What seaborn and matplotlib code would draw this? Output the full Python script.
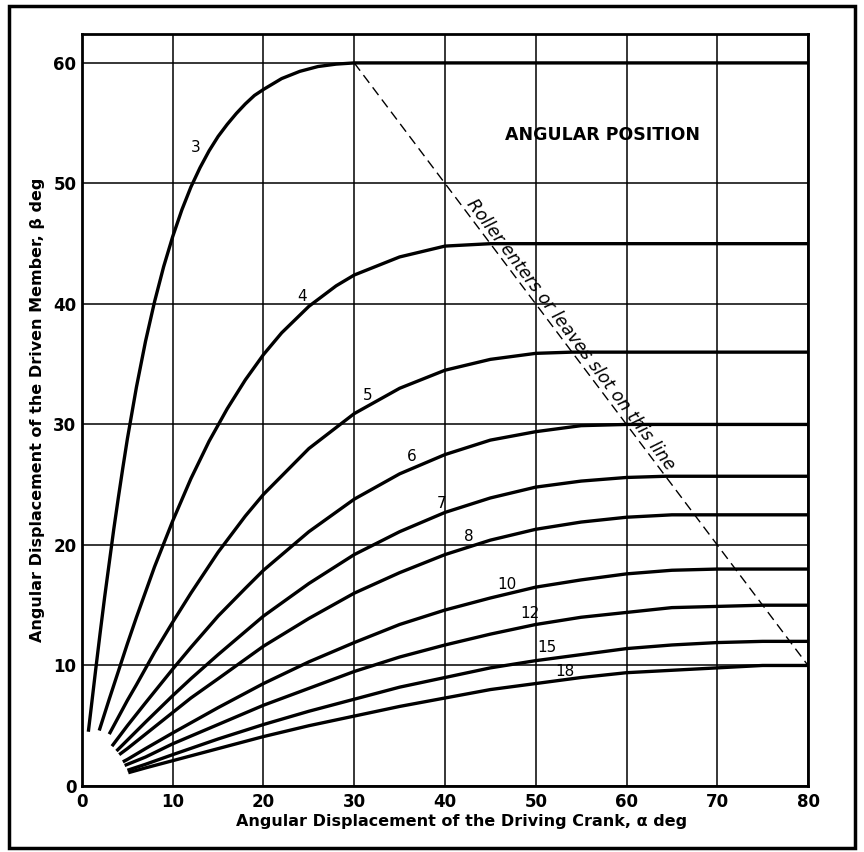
import math
import pandas as pd
import matplotlib
matplotlib.use('Agg')
import matplotlib.pyplot as plt
import seaborn as sns
from matplotlib.patches import Rectangle

# number of slots in the driven member, one curve each
SLOTS = [3, 4, 5, 6, 7, 8, 10, 12, 15, 18]

# crank angle alpha (deg) vs driven angle beta (deg)
ALPHA_3 = [0.7, 1, 1.5, 2, 2.5, 3, 3.5, 4, 4.5, 5, 6, 7, 8, 9, 10, 11, 12, 13, 14, 15, 16,
           17, 18, 19, 20, 22, 24, 26, 28, 30, 80]
BETA_3 = [4.5, 6.4, 9.6, 12.7, 15.7, 18.5, 21.3, 23.9, 26.4, 28.8, 33.1, 36.9, 40.2, 43.1, 45.6,
          47.8, 49.7, 51.3, 52.7, 53.9, 54.9, 55.8, 56.6, 57.3, 57.8, 58.7, 59.3, 59.7, 59.9, 60, 60]

ALPHA_4 = [1.9, 3, 4, 5, 6, 8, 10, 12, 14, 16, 18, 20, 22, 25, 28, 30, 35, 40, 45, 80]
BETA_4 = [4.6, 7.2, 9.5, 11.8, 14.0, 18.2, 22.0, 25.5, 28.6, 31.3, 33.7, 35.8, 37.6, 39.8, 41.5, 42.4, 43.9, 44.8, 45, 45]

ALPHA_5 = [3, 4, 5, 6, 8, 10, 12, 15, 18, 20, 25, 30, 35, 40, 45, 50, 54, 80]
BETA_5 = [4.3, 5.7, 7.1, 8.4, 11.1, 13.6, 16.0, 19.4, 22.4, 24.2, 28.0, 30.9, 33.0, 34.5, 35.4, 35.9, 36, 36]

ALPHA_6 = [3.3, 5, 7, 10, 12, 15, 18, 20, 25, 30, 35, 40, 45, 50, 55, 60, 80]
BETA_6 = [3.3, 5.0, 6.9, 9.7, 11.5, 14.1, 16.4, 17.9, 21.1, 23.8, 25.9, 27.5, 28.7, 29.4, 29.9, 30, 30]

ALPHA_7 = [3.8, 5, 7, 10, 12, 15, 20, 25, 30, 35, 40, 45, 50, 55, 60, 64.3, 80]
BETA_7 = [2.9, 3.8, 5.3, 7.5, 8.9, 10.9, 14.1, 16.8, 19.2, 21.1, 22.7, 23.9, 24.8, 25.3, 25.6, 25.7, 25.7]

ALPHA_8 = [4.1, 5, 7, 10, 12, 15, 20, 25, 30, 35, 40, 45, 50, 55, 60, 65, 67.5, 80]
BETA_8 = [2.6, 3.1, 4.3, 6.1, 7.3, 8.9, 11.6, 13.9, 16.0, 17.7, 19.2, 20.4, 21.3, 21.9, 22.3, 22.5, 22.5, 22.5]

ALPHA_10 = [4.5, 5, 7, 10, 15, 20, 25, 30, 35, 40, 45, 50, 55, 60, 65, 70, 72, 80]
BETA_10 = [2.0, 2.2, 3.1, 4.4, 6.5, 8.5, 10.3, 11.9, 13.4, 14.6, 15.6, 16.5, 17.1, 17.6, 17.9, 18.0, 18, 18]

ALPHA_12 = [4.7, 7, 10, 15, 20, 25, 30, 35, 40, 45, 50, 55, 60, 65, 70, 75, 80]
BETA_12 = [1.7, 2.4, 3.5, 5.1, 6.7, 8.1, 9.5, 10.7, 11.7, 12.6, 13.4, 14.0, 14.4, 14.8, 14.9, 15, 15]

ALPHA_15 = [5, 7, 10, 15, 20, 25, 30, 35, 40, 45, 50, 55, 60, 65, 70, 75, 78, 80]
BETA_15 = [1.3, 1.8, 2.6, 3.9, 5.1, 6.2, 7.2, 8.2, 9.0, 9.8, 10.4, 10.9, 11.4, 11.7, 11.9, 12.0, 12, 12]

ALPHA_18 = [5.1, 7, 10, 15, 20, 25, 30, 35, 40, 45, 50, 55, 60, 65, 70, 75, 80]
BETA_18 = [1.1, 1.5, 2.1, 3.1, 4.1, 5.0, 5.8, 6.6, 7.3, 8.0, 8.5, 9.0, 9.4, 9.6, 9.8, 10.0, 10]

# line where the roller enters or leaves the slot
ROLLER_ALPHA = [30, 80]
ROLLER_BETA = [60, 10]

X_TICKS = [0, 10, 20, 30, 40, 50, 60, 70, 80]
Y_TICKS = [0, 10, 20, 30, 40, 50, 60]

CURVE_LABELS = ['3', '4', '5', '6', '7', '8', '10', '12', '15', '18']
LABEL_XY = [(12.5, 53.0), (24.3, 40.6), (31.5, 32.4), (36.3, 27.3), (39.6, 23.4),
            (42.6, 20.7), (46.8, 16.7), (49.4, 14.3), (51.2, 11.5), (53.2, 9.5)]

alphas = [ALPHA_3, ALPHA_4, ALPHA_5, ALPHA_6, ALPHA_7, ALPHA_8, ALPHA_10, ALPHA_12, ALPHA_15, ALPHA_18]
betas = [BETA_3, BETA_4, BETA_5, BETA_6, BETA_7, BETA_8, BETA_10, BETA_12, BETA_15, BETA_18]
frames = []
for n, a, b in zip(SLOTS, alphas, betas):
    frames.append(pd.DataFrame({'alpha': a, 'beta': b, 'slots': n}))
df = pd.concat(frames, ignore_index=True)

sns.set_theme(style='white')
plt.rcParams['font.family'] = ['DejaVu Sans']

fig = plt.figure(figsize=(8.64, 8.52), dpi=100)
ax = fig.add_axes([0.0949, 0.0775, 0.8403, 0.8826])

sns.lineplot(data=df, x='alpha', y='beta', units='slots', estimator=None, sort=False,
             color='black', lw=2.4, solid_capstyle='butt', solid_joinstyle='round', ax=ax)
sns.lineplot(x=ROLLER_ALPHA, y=ROLLER_BETA, color='black', lw=1.0, dashes=False,
             linestyle=(0, (7, 4)), ax=ax)

ax.set_xlim(0, 80)
ax.set_ylim(0, 62.4)
ax.set_xticks(X_TICKS)
ax.set_yticks(Y_TICKS)
ax.grid(True, color='black', lw=1.1)
ax.set_axisbelow(True)
for sp in ax.spines.values():
    sp.set_color('black')
    sp.set_linewidth(2)
ax.tick_params(length=0, labelsize=12, colors='black')
ax.tick_params(axis='x', pad=5)
ax.tick_params(axis='y', pad=4)
for lab in ax.get_xticklabels() + ax.get_yticklabels():
    lab.set_fontweight('bold')

ax.set_xlabel('Angular Displacement of the Driving Crank, α deg', fontsize=11.5,
              fontweight='bold', color='black')
ax.xaxis.set_label_coords(0.523, -0.037)
ax.set_ylabel('Angular Displacement of the Driven Member, β deg', fontsize=11.5,
              fontweight='bold', color='black', labelpad=6)

for txt, (x, y) in zip(CURVE_LABELS, LABEL_XY):
    ax.text(x, y, txt, fontsize=11, ha='center', va='center', color='black')

ax.text(57.3, 54.0, 'ANGULAR POSITION', fontsize=12.5, fontweight='bold',
        ha='center', va='center', color='black')

p1 = ax.transData.transform((ROLLER_ALPHA[0], ROLLER_BETA[0]))
p2 = ax.transData.transform((ROLLER_ALPHA[1], ROLLER_BETA[1]))
ang = math.degrees(math.atan2(p2[1] - p1[1], p2[0] - p1[0]))
ax.text(53.0, 37.0, 'Roller enters or leaves slot on this line', fontsize=12.5,
        fontstyle='italic', rotation=ang, rotation_mode='anchor',
        ha='center', va='bottom', color='black')

fig.patches.append(Rectangle((9 / 864, 4 / 852), 846 / 864, 842 / 852, transform=fig.transFigure,
                             fill=False, ec='black', lw=2.5))

fig.savefig('out.png', dpi=100)
